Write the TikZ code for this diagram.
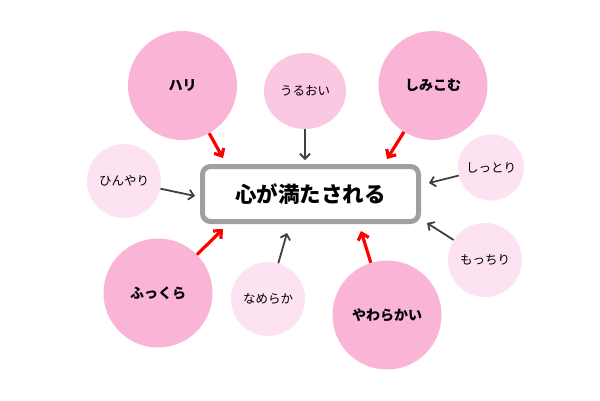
\documentclass[tikz,border=0pt]{standalone}
\usepackage{fontspec}
\setmainfont{Noto Sans CJK JP}
\usetikzlibrary{arrows.meta,shapes.geometric}
\definecolor{pinkbig}{HTML}{F9B4D6}
\definecolor{pinkmid}{HTML}{FBC8E2}
\definecolor{pinklight}{HTML}{FDE3F1}
\definecolor{arrowgray}{HTML}{404040}
\definecolor{boxgray}{HTML}{A0A0A0}
\definecolor{arrowred}{HTML}{FF0000}
\tikzset{
  bigc/.style={circle,fill=pinkbig,minimum size=109pt,inner sep=0pt,font=\fontsize{14}{14}\selectfont\bfseries},
  midc/.style={ellipse,fill=pinkmid,minimum width=82pt,minimum height=76pt,inner sep=0pt,font=\fontsize{12.5}{12.5}\selectfont},
  smallc/.style={circle,fill=pinklight,minimum size=74pt,inner sep=0pt,font=\fontsize{12.5}{12.5}\selectfont},
  centerbox/.style={draw=boxgray,line width=5pt,rounded corners=8pt,fill=white,minimum width=216pt,minimum height=55pt,inner sep=0pt,font=\fontsize{21.5}{21.5}\selectfont\bfseries},
  redarrow/.style={draw=arrowred,line width=3.2pt,-{Straight Barb[length=6pt,width=11pt,line width=3.2pt]}},
  grayarrow/.style={draw=arrowgray,line width=1.8pt,-{Straight Barb[length=5pt,width=10pt,line width=1.8pt]}}
}
\begin{document}
\begin{tikzpicture}[x=1pt,y=-1pt]
\useasboundingbox[fill=white] (0,0) rectangle (600,400);
% circles
\node[bigc] (hari) at (182.5,85.5) {ハリ};
\node[midc] (uruoi) at (305,91) {うるおい};
\node[bigc] (shimikomu) at (433,85.5) {しみこむ};
\node[smallc] (hinyari) at (124,181) {ひんやり};
\node[smallc,minimum size=66pt] (shittori) at (491,167.5) {しっとり};
\node[smallc] (mocchiri) at (485,260) {もっちり};
\node[bigc] (fukkura) at (158,293) {ふっくら};
\node[smallc] (nameraka) at (268,299) {なめらか};
\node[bigc] (yawarakai) at (387,315) {やわらかい};
% central box
\node[centerbox] (box) at (310.5,194) {心が満たされる};
% arrow end points
\coordinate (eHari) at (223,158);
\coordinate (eUruoi) at (305,160);
\coordinate (eShimi) at (387,159);
\coordinate (eHin) at (195,196);
\coordinate (eShit) at (429,183);
\coordinate (eMoc) at (427,223);
\coordinate (eFuk) at (223,229);
\coordinate (eNam) at (287,233);
\coordinate (eYaw) at (361,231);
% arrows
\draw[redarrow] (hari) -- (eHari);
\draw[grayarrow] (uruoi) -- (eUruoi);
\draw[redarrow] (shimikomu) -- (eShimi);
\draw[grayarrow] (hinyari) -- (eHin);
\draw[grayarrow] (shittori) -- (eShit);
\draw[grayarrow] (mocchiri) -- (eMoc);
\draw[redarrow] (fukkura) -- (eFuk);
\draw[grayarrow] (nameraka) -- (eNam);
\draw[redarrow] (yawarakai) -- (eYaw);
\end{tikzpicture}
\end{document}
